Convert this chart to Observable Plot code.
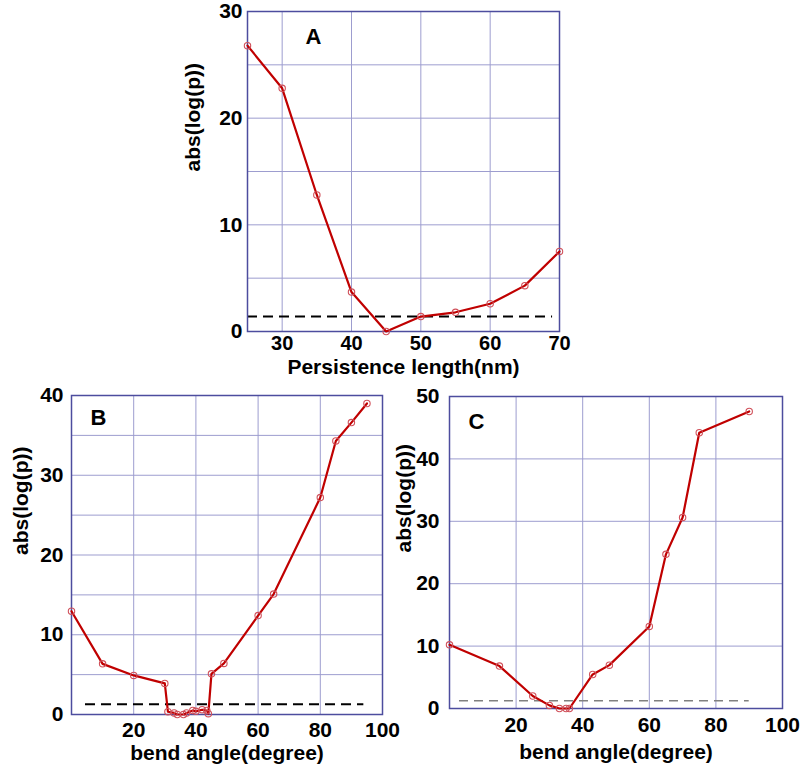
<!DOCTYPE html>
<html>
<head>
<meta charset="utf-8">
<script src="https://cdn.jsdelivr.net/npm/d3@7"></script>
<script src="https://cdn.jsdelivr.net/npm/@observablehq/plot@0.6"></script>
<style>
  html, body { margin: 0; padding: 0; background: #fff; }
  #root { position: relative; width: 800px; height: 774px; background: #fff; overflow: hidden; }
  .panel { position: absolute; }
</style>
</head>
<body>
<div id="root"></div>
<script>
// ---- Panel A data ----
const persistenceLength = [25, 30, 35, 40, 45, 50, 55, 60, 65, 70];
const absLogPA = [26.8, 22.8, 12.8, 3.7, 0, 1.4, 1.8, 2.6, 4.3, 7.5];
const xTicksA = [30, 40, 50, 60, 70];
const yTicksA = [0, 10, 20, 30];
const xGridA = [30, 40, 50, 60];
const yGridA = [5, 10, 15, 20, 25];
const thresholdA = 1.4;
const dashExtentA = [25, 69];

// ---- Panel B data ----
const bendAngleB = [0, 10, 20, 30, 31, 33, 34, 36, 37, 39, 40, 42, 43.5, 44, 45, 49, 60, 65, 80, 85, 90, 95];
const absLogPB = [12.95, 6.35, 4.9, 3.9, 0.35, 0.2, 0, 0, 0.2, 0.5, 0.4, 0.6, 0.5, 0.1, 5.1, 6.4, 12.4, 15.1, 27.2, 34.3, 36.6, 39];
const xTicksB = [20, 40, 60, 80, 100];
const yTicksB = [0, 10, 20, 30, 40];
const xGridB = [20, 40, 60, 80];
const yGridB = [5, 10, 15, 20, 25, 30, 35];
const thresholdB = 1.3;
const dashExtentB = [4.5, 94];

// ---- Panel C data ----
const bendAngleC = [0, 15, 25, 30, 33, 35, 36, 43, 48, 60, 65, 70, 75, 90];
const absLogPC = [10.2, 6.8, 2.0, 0.5, 0, 0, 0, 5.45, 6.95, 13.15, 24.7, 30.6, 44.2, 47.6];
const xTicksC = [20, 40, 60, 80, 100];
const yTicksC = [0, 10, 20, 30, 40, 50];
const xGridC = [20, 40, 60, 80];
const yGridC = [10, 20, 30, 40];
const thresholdC = 1.25;
const dashExtentC = [3, 90];

const yLabel = "abs(log(p))";

const FRAME = "#4d4d9e";
const GRID = "#9d9dcf";
const LINE = "#c00000";
const DOT = "#d0505a";

function panel(o) {
  const data = o.x.map((x, i) => ({x, y: o.y[i]}));
  return Plot.plot({
    width: o.width, height: o.height,
    marginTop: o.mt, marginRight: o.mr, marginBottom: o.mb, marginLeft: o.ml,
    style: {fontFamily: "'Liberation Sans', Arial, sans-serif", fontWeight: "bold", fontSize: "21px", color: "#000", background: "transparent", overflow: "visible"},
    x: {domain: o.xDomain},
    y: {domain: o.yDomain},
    marks: [
      Plot.gridX(o.xGrid, {stroke: GRID, strokeOpacity: 1, strokeWidth: 1}),
      Plot.gridY(o.yGrid, {stroke: GRID, strokeOpacity: 1, strokeWidth: 1}),
      Plot.ruleY([o.threshold], {x1: o.dash[0], x2: o.dash[1], stroke: o.dashColor, strokeWidth: o.dashWidth, strokeDasharray: o.dashArray}),
      Plot.frame({stroke: FRAME, strokeWidth: 1.5}),
      Plot.axisX({ticks: o.xTicks, tickSize: 0, tickPadding: o.xPad, tickFormat: d => String(d), fontSize: o.xTickFont, label: null}),
      Plot.axisY({ticks: o.yTicks, tickSize: 0, tickPadding: o.yPad, tickFormat: d => String(d), fontSize: 21, label: null}),
      Plot.text([o.xLabel], {frameAnchor: "bottom", lineAnchor: "middle", dy: o.xLabelDy, fontSize: 21, fontWeight: "bold"}),
      Plot.text([yLabel], {frameAnchor: "left", lineAnchor: "middle", rotate: -90, dx: o.yLabelDx, fontSize: 21, fontWeight: "bold"}),
      Plot.line(data, {x: "x", y: "y", stroke: LINE, strokeWidth: 2.2}),
      Plot.dot(data, {x: "x", y: "y", r: 3.2, stroke: DOT, fill: "none", strokeWidth: 1.1}),
      Plot.text([o.tag], {frameAnchor: "top-left", textAnchor: "start", lineAnchor: "top", dx: o.tagDx, dy: o.tagDy, fontSize: 22, fontWeight: "bold"})
    ]
  });
}

function place(node, left, top) {
  const d = document.createElement("div");
  d.className = "panel";
  d.style.left = left + "px";
  d.style.top = top + "px";
  d.appendChild(node);
  document.getElementById("root").appendChild(d);
}

place(panel({
  x: persistenceLength, y: absLogPA, width: 400, height: 380,
  mt: 11, mr: 21, mb: 49, ml: 67,
  xDomain: [25, 70], yDomain: [0, 30],
  xTicks: xTicksA, yTicks: yTicksA, xGrid: xGridA, yGrid: yGridA,
  threshold: thresholdA, dash: dashExtentA, dashColor: "#000", dashWidth: 2, dashArray: "10,6",
  xPad: 4, xTickFont: 20, yPad: 5, xLabel: "Persistence length(nm)", xLabelDy: 36, yLabelDx: -54,
  tag: "A", tagDx: 58, tagDy: 17
}), 180, 0);

place(panel({
  x: bendAngleB, y: absLogPB, width: 400, height: 394,
  mt: 15, mr: 18, mb: 60, ml: 71,
  xDomain: [0, 100], yDomain: [0, 40],
  xTicks: xTicksB, yTicks: yTicksB, xGrid: xGridB, yGrid: yGridB,
  threshold: thresholdB, dash: dashExtentB, dashColor: "#000", dashWidth: 2, dashArray: "10,6",
  xPad: 8, xTickFont: 21, yPad: 8, xLabel: "bend angle(degree)", xLabelDy: 39, yLabelDx: -50,
  tag: "B", tagDx: 19, tagDy: 14
}), 0, 380);

place(panel({
  x: bendAngleC, y: absLogPC, width: 400, height: 394,
  mt: 16, mr: 18, mb: 66, ml: 49,
  xDomain: [0, 100], yDomain: [0, 50],
  xTicks: xTicksC, yTicks: yTicksC, xGrid: xGridC, yGrid: yGridC,
  threshold: thresholdC, dash: dashExtentC, dashColor: "#808080", dashWidth: 1.5, dashArray: "9,6",
  xPad: 9, xTickFont: 21, yPad: 10, xLabel: "bend angle(degree)", xLabelDy: 44, yLabelDx: -45,
  tag: "C", tagDx: 19, tagDy: 17
}), 400, 380);
</script>
</body>
</html>
